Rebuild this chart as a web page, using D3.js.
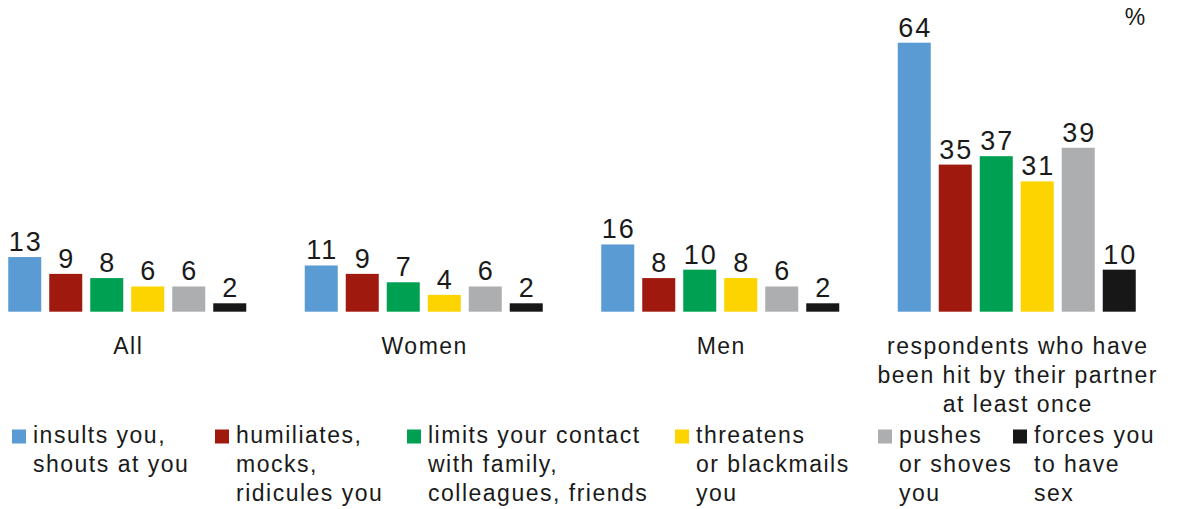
<!DOCTYPE html>
<html>
<head>
<meta charset="utf-8">
<script src="https://cdn.jsdelivr.net/npm/d3@7"></script>
<style>
  html, body { margin: 0; padding: 0; background: #ffffff; }
  svg { display: block; }
  text { font-family: "Liberation Sans", Arial, sans-serif; fill: #1a1a1a; }
</style>
</head>
<body>
<svg id="chart" width="1189" height="509"></svg>
<script>
// ---- data ----
const groups = ["All", "Women", "Men", "respondents who have been hit by their partner at least once"];
const groupLabelLines = [["All"], ["Women"], ["Men"], ["respondents who have", "been hit by their partner", "at least once"]];
const seriesNames = ["insults you, shouts at you", "humiliates, mocks, ridicules you", "limits your contact with family, colleagues, friends", "threatens or blackmails you", "pushes or shoves you", "forces you to have sex"];
const legendLines = [
  ["insults you,", "shouts at you"],
  ["humiliates,", "mocks,", "ridicules you"],
  ["limits your contact", "with family,", "colleagues, friends"],
  ["threatens", "or blackmails", "you"],
  ["pushes", "or shoves", "you"],
  ["forces you", "to have", "sex"]
];
const insults   = [13, 11, 16, 64];
const humiliates = [9, 9, 8, 35];
const limits    = [8, 7, 10, 37];
const threatens = [6, 4, 8, 31];
const pushes    = [6, 6, 6, 39];
const forces    = [2, 2, 2, 10];
const unitLabel = "%";

// ---- style / layout ----
const colors = ["#5b9bd3", "#a0190f", "#00a052", "#fdd300", "#adaeb0", "#161716"];
const legendX = [12, 215, 407, 675, 878, 1013];

const seriesValues = [insults, humiliates, limits, threatens, pushes, forces];
const svg = d3.select("#chart");

const x0 = d3.scalePoint().domain(groups).range([127.25, 1016.75]);
const x1 = d3.scaleBand().domain(seriesNames).range([-123, 123]).paddingInner(0.195).paddingOuter(0.0975);
const y = d3.scaleLinear().domain([0, 64]).range([311.7, 42.7]);

const rows = [];
groups.forEach((g, gi) => {
  seriesNames.forEach((s, si) => {
    rows.push({ group: g, series: s, si: si, value: seriesValues[si][gi] });
  });
});

const barG = svg.append("g");
barG.selectAll("rect").data(rows).enter().append("rect")
  .attr("x", d => x0(d.group) + x1(d.series))
  .attr("y", d => y(d.value))
  .attr("width", x1.bandwidth())
  .attr("height", d => y(0) - y(d.value))
  .attr("fill", d => colors[d.si]);

barG.selectAll("text.val").data(rows).enter().append("text")
  .attr("class", "val")
  .attr("x", d => x0(d.group) + x1(d.series) + x1.bandwidth() / 2 + 1)
  .attr("y", d => y(d.value) - 6)
  .attr("text-anchor", "middle")
  .style("font-size", "27px")
  .style("letter-spacing", "2px")
  .text(d => d.value);

// category labels
const catG = svg.append("g");
groups.forEach((g, gi) => {
  const t = catG.append("text")
    .attr("text-anchor", "middle")
    .style("font-size", "23px")
    .style("letter-spacing", "1.5px");
  groupLabelLines[gi].forEach((line, li) => {
    t.append("tspan")
      .attr("x", x0(g) + 1)
      .attr("y", 353.5 + li * 29)
      .text(line);
  });
});

// unit
svg.append("text")
  .attr("x", 1135)
  .attr("y", 25)
  .attr("text-anchor", "middle")
  .style("font-size", "23px")
  .text(unitLabel);

// legend
const legG = svg.append("g");
seriesNames.forEach((s, si) => {
  legG.append("rect")
    .attr("x", legendX[si])
    .attr("y", 429.5)
    .attr("width", 14)
    .attr("height", 14)
    .attr("fill", colors[si]);
  const t = legG.append("text")
    .style("font-size", "23px")
    .style("letter-spacing", "1.5px");
  legendLines[si].forEach((line, li) => {
    t.append("tspan")
      .attr("x", legendX[si] + 21)
      .attr("y", 443.3 + li * 29)
      .text(line);
  });
});
</script>
</body>
</html>
